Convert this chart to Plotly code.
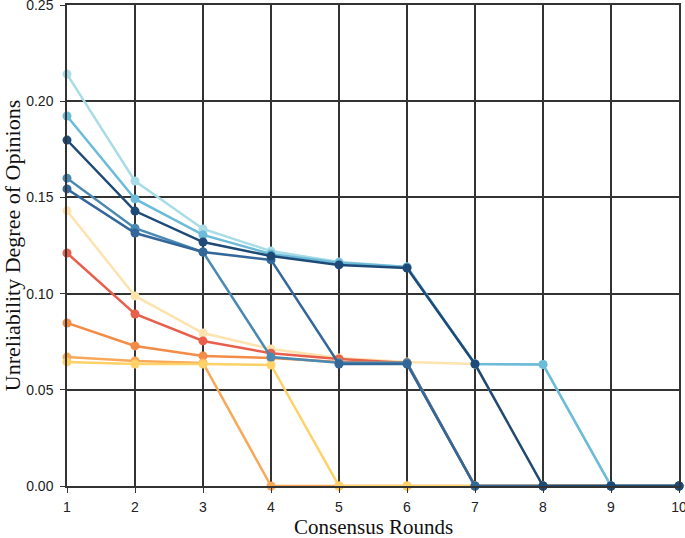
import plotly.graph_objects as go

rounds = [1, 2, 3, 4, 5, 6, 7, 8, 9, 10]

cream = [0.143, 0.0988, 0.0795, 0.0712, 0.0665, 0.0645, 0.0634, 0.0, 0.0, 0.0]
red = [0.1211, 0.0894, 0.0754, 0.069, 0.066, 0.064, 0.0, 0.0, 0.0, 0.0]
orange = [0.0847, 0.0728, 0.0676, 0.0665, 0.0645, 0.064, 0.0, 0.0, 0.0, 0.0]
light_orange = [0.067, 0.065, 0.064, 0.0, 0.0, 0.0, 0.0, 0.0, 0.0, 0.0]
yellow = [0.0645, 0.0634, 0.0634, 0.0629, 0.0, 0.0, 0.0, 0.0, 0.0, 0.0]
light_cyan = [0.2141, 0.1585, 0.1336, 0.1221, 0.1164, 0.1138, 0.0634, 0.0632, 0.0, 0.0]
sky = [0.1923, 0.1492, 0.1305, 0.1206, 0.116, 0.1138, 0.0634, 0.0632, 0.0, 0.0]
steel = [0.160, 0.134, 0.1216, 0.067, 0.064, 0.064, 0.0, 0.0, 0.0, 0.0]
blue = [0.1544, 0.1315, 0.1216, 0.1175, 0.0634, 0.0634, 0.0, 0.0, 0.0, 0.0]
navy = [0.1798, 0.1429, 0.1268, 0.1195, 0.1149, 0.1133, 0.0634, 0.0, 0.0, 0.0]

series = [
    (cream, "#fde3ae"),
    (red, "#e8604c"),
    (orange, "#f28c46"),
    (light_orange, "#f7a858"),
    (yellow, "#ffd166"),
    (light_cyan, "#a8dce6"),
    (sky, "#6cbbd9"),
    (steel, "#4a8ab2"),
    (blue, "#33679a"),
    (navy, "#1e4a78"),
]

fig = go.Figure()
for vals, col in series:
    fig.add_trace(go.Scatter(
        x=rounds, y=vals, mode="lines+markers",
        line=dict(color=col, width=2.5),
        marker=dict(color=col, size=9),
        cliponaxis=False, showlegend=False,
    ))

title_font = dict(family="Liberation Serif, Times New Roman, serif", size=22, color="#111")

fig.update_layout(
    width=685, height=538,
    margin=dict(l=67, r=6, t=5, b=52),
    plot_bgcolor="white", paper_bgcolor="white",
    font=dict(family="Liberation Sans, Arial, sans-serif", size=14, color="#222"),
    annotations=[dict(
        text="Consensus Rounds", xref="paper", yref="paper",
        x=0.5, y=-41 / 481, xanchor="center", yanchor="middle",
        showarrow=False, font=dict(family="Liberation Serif, Times New Roman, serif", size=21, color="#111"),
    )],
)
fig.update_xaxes(
    range=[1, 10], tickvals=rounds, ticks="outside", ticklen=5, tickcolor="#333",
    ticklabelstandoff=2, ticklabeloverflow="allow", automargin=False,
    showgrid=True, gridcolor="#333", gridwidth=1.5, zeroline=False,
    showline=True, mirror=True, linecolor="#333", linewidth=1.5,
)
fig.update_yaxes(
    range=[0, 0.25], tickvals=[0, 0.05, 0.10, 0.15, 0.20, 0.25], tickformat=".2f",
    ticks="outside", ticklen=5, tickcolor="#333",
    ticklabelstandoff=4, ticklabeloverflow="allow", automargin=False,
    showgrid=True, gridcolor="#333", gridwidth=1.5, zeroline=False,
    showline=True, mirror=True, linecolor="#333", linewidth=1.5,
    title=dict(text="Unreliability Degree of Opinions", font=title_font, standoff=4),
)

fig.write_html("out.html")
